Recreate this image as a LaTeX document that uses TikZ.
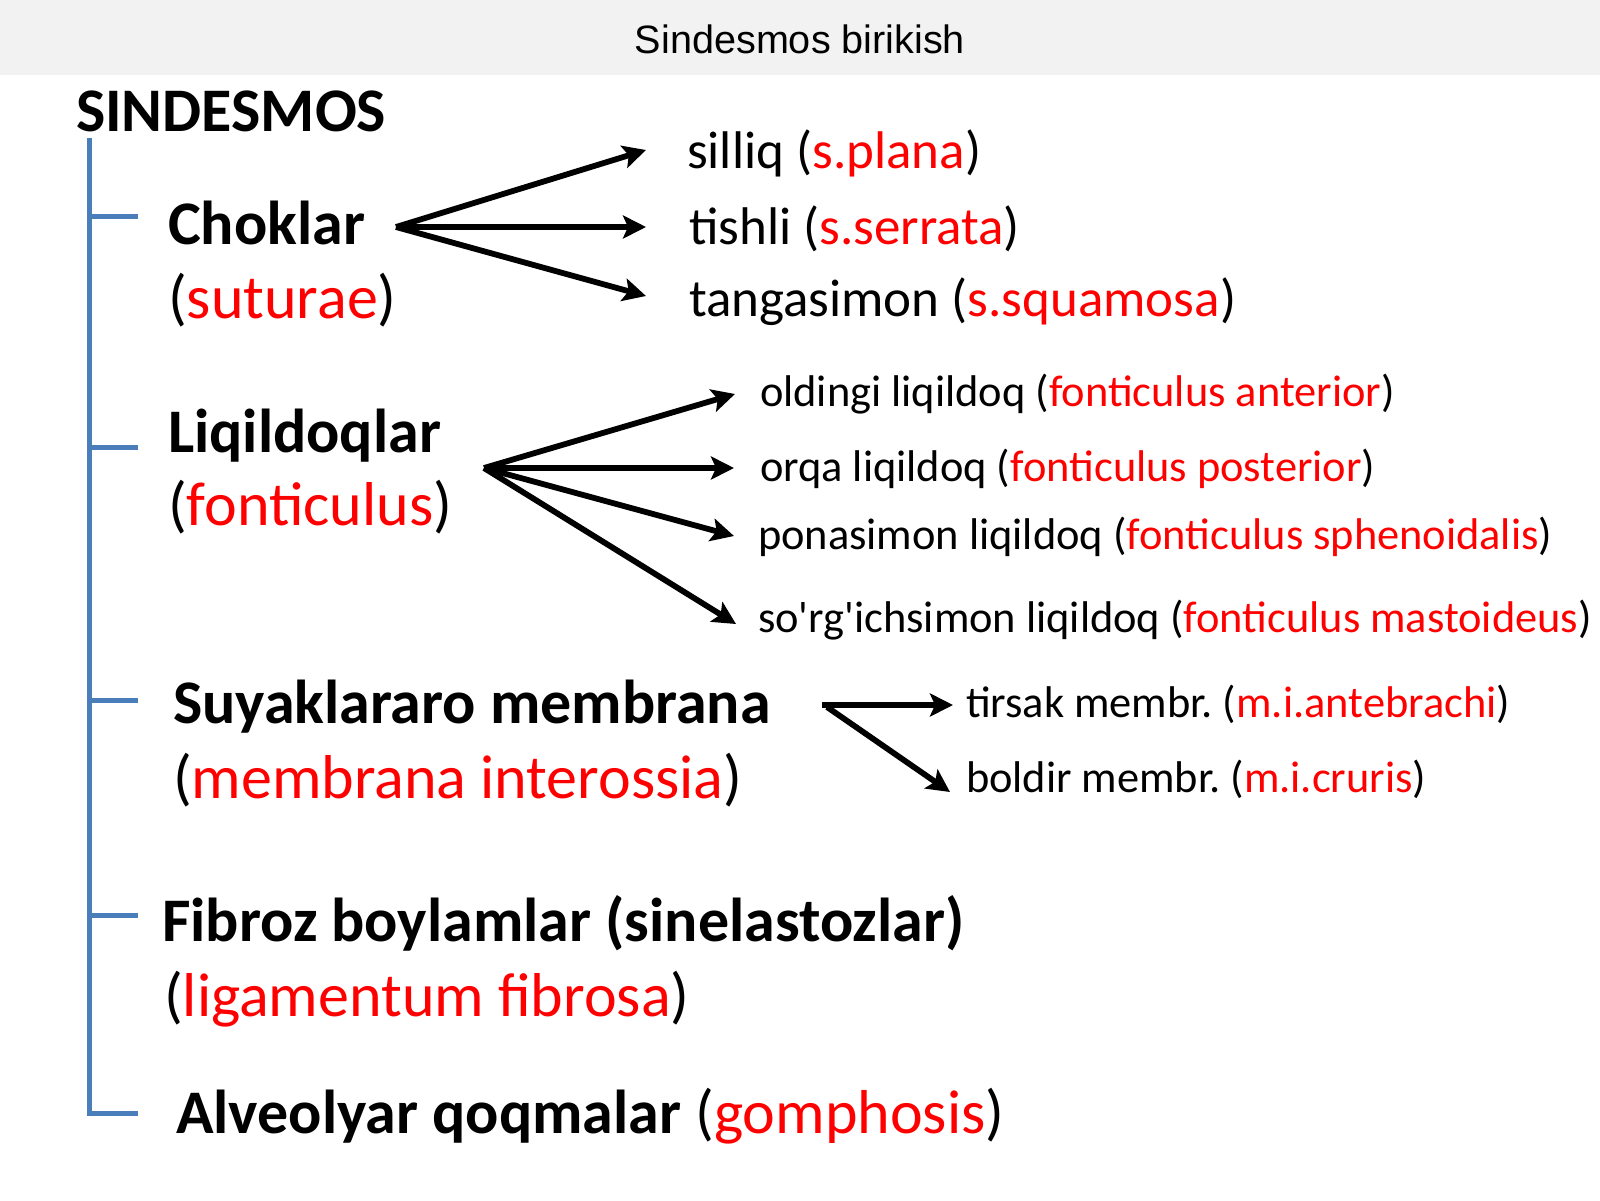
\documentclass[tikz,border=0pt]{standalone}
\usepackage{fontspec}
\setmainfont{Carlito}
\newfontfamily\titlefont{Liberation Sans}
\usetikzlibrary{arrows.meta}
\definecolor{barblue}{HTML}{4A7EBB}
\definecolor{titlegray}{HTML}{F2F2F2}
\definecolor{latred}{HTML}{FF0000}
\newcommand{\rd}[1]{\textcolor{latred}{#1}}
\frenchspacing
\begin{document}
\begin{tikzpicture}[x=0.5pt,y=-0.5pt,
  lbl/.style={anchor=base west, inner sep=0pt, outer sep=0pt},
  headtxt/.style={lbl, font=\fontsize{31}{36}\selectfont\bfseries},
  subtxt/.style={lbl, font=\fontsize{31}{36}\selectfont},
  itemA/.style={lbl, font=\fontsize{26.5}{30}\selectfont},
  itemB/.style={lbl, font=\fontsize{22.2}{26}\selectfont},
  arr/.style={line width=2.9pt, -{Stealth[length=11.5pt,width=11.5pt,inset=2.5pt]}},
  tree/.style={draw=barblue, line width=2.5pt}]
\useasboundingbox (0,0) rectangle (1600,1200);
\fill[white] (0,0) rectangle (1600,1200);
\fill[titlegray] (0,0) rectangle (1600,75);
\node[anchor=base, inner sep=0pt, font=\titlefont\fontsize{19.8}{24}\selectfont] (title) at (800,53) {Sindesmos birikish};

% headings
\node[headtxt] (sind) at (76,131) {SINDESMOS};
\node[headtxt] (chok) at (168,244) {Choklar};
\node[subtxt] (chokl) at (168,318) {(\rd{suturae})};
\node[headtxt] (liq) at (168,452) {Liqildoqlar};
\node[subtxt] (liql) at (168,525) {(\rd{fonticulus})};
\node[headtxt] (suy) at (173,723) {Suyaklararo membrana};
\node[subtxt] (suyl) at (173,798) {(\rd{membrana interossia})};
\node[headtxt] (fib) at (162,941) {Fibroz boylamlar (sinelastozlar)};
\node[subtxt] (fibl) at (164,1016) {(\rd{ligamentum fibrosa})};
\node[headtxt] (alv) at (176,1133) {Alveolyar qoqmalar \mdseries(\rd{gomphosis})};

% items
\node[itemA] (i11) at (687,168) {silliq (\rd{s.plana})};
\node[itemA] (i12) at (689,244) {tishli (\rd{s.serrata})};
\node[itemA] (i13) at (689,316) {tangasimon (\rd{s.squamosa})};
\node[itemB] (i21) at (760,406) {oldingi liqildoq (\rd{fonticulus anterior})};
\node[itemB] (i22) at (760,481) {orqa liqildoq (\rd{fonticulus posterior})};
\node[itemB] (i23) at (758,549) {ponasimon liqildoq (\rd{fonticulus sphenoidalis})};
\node[itemB] (i24) at (758,632) {so\textquotesingle rg\textquotesingle ichsimon liqildoq (\rd{fonticulus mastoideus})};
\node[itemB] (i31) at (966,717) {tirsak membr. (\rd{m.i.antebrachi})};
\node[itemB] (i32) at (966,792) {boldir membr. (\rd{m.i.cruris})};

% blue tree
\coordinate (tTop) at (89,138);
\coordinate (tBot) at (89,1113);
\coordinate (b1) at (89,216);  \coordinate (e1) at (138,216);
\coordinate (b2) at (89,447);  \coordinate (e2) at (138,447);
\coordinate (b3) at (89,700);  \coordinate (e3) at (138,700);
\coordinate (b4) at (89,915);  \coordinate (e4) at (138,915);
\coordinate (e5) at (138,1113);
\draw[tree] (tTop) -- (tBot) -- (e5);
\draw[tree] (b1) -- (e1);
\draw[tree] (b2) -- (e2);
\draw[tree] (b3) -- (e3);
\draw[tree] (b4) -- (e4);

% arrows: Choklar
\coordinate (h1) at (396,227);
\coordinate (a11) at (646,150);
\coordinate (a12) at (646,227);
\coordinate (a13) at (646,296);
\draw[arr] (h1) -- (a11);
\draw[arr] (h1) -- (a12);
\draw[arr] (h1) -- (a13);

% arrows: Liqildoqlar
\coordinate (h2) at (484,468);
\coordinate (a21) at (735,394);
\coordinate (a22) at (734,468);
\coordinate (a23) at (734,536);
\coordinate (a24) at (736,624);
\draw[arr] (h2) -- (a21);
\draw[arr] (h2) -- (a22);
\draw[arr] (h2) -- (a23);
\draw[arr] (h2) -- (a24);

% arrows: membrana
\coordinate (h3) at (822,705);
\coordinate (h3b) at (827,707);
\coordinate (a31) at (953,705);
\coordinate (a32) at (950,792);
\draw[arr] (h3) -- (a31);
\draw[arr] (h3b) -- (a32);
\end{tikzpicture}
\end{document}
